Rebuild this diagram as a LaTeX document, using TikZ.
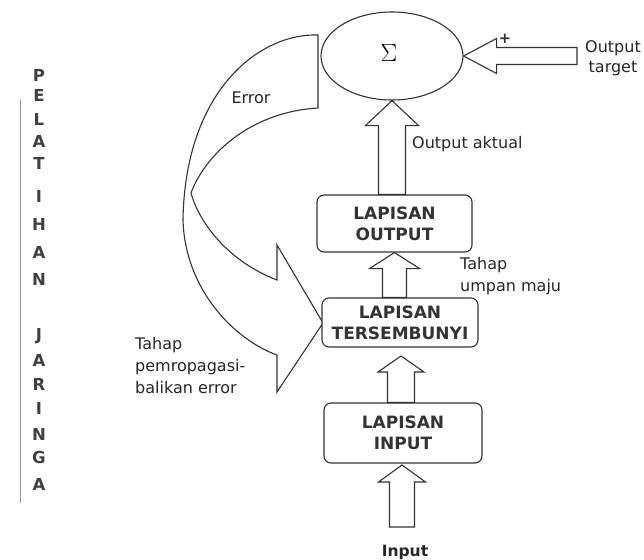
\documentclass[tikz,border=0pt]{standalone}
\usepackage{fontspec}
\setmainfont{DejaVu Sans}
\usetikzlibrary{calc,shapes.geometric}
\newcommand{\upblock}[5]{%
 \draw[blk] let \p1=(#1), \p2=(#2) in
  (\x2,\y2) -- (\x2+#5,\y2-#3) -- (\x2+#4,\y2-#3) -- (\x2+#4,\y1) -- (\x2-#4,\y1) -- (\x2-#4,\y2-#3) -- (\x2-#5,\y2-#3) -- cycle;}
\newcommand{\leftblock}[5]{%
 \draw[blk] let \p1=(#1), \p2=(#2) in
  (\x2,\y2) -- (\x2+#3,\y2+#5) -- (\x2+#3,\y2+#4) -- (\x1,\y2+#4) -- (\x1,\y2-#4) -- (\x2+#3,\y2-#4) -- (\x2+#3,\y2-#5) -- cycle;}
\begin{document}
\begin{tikzpicture}[x=1pt,y=-1pt,
  ln/.style={draw=black!80, line width=1.1pt},
  blk/.style={ln, fill=white, line join=miter},
  layer/.style={ln, fill=white, rounded corners=7pt, align=center, font=\fontsize{17}{21}\selectfont\bfseries, text=black!80, inner sep=0pt},
  lbl/.style={font=\fontsize{16}{22}\selectfont, text=black!85, inner sep=0pt},
  vlet/.style={font=\fontsize{16.5}{16.5}\selectfont\bfseries, text=black!75, inner sep=0pt, anchor=base}
]
\useasboundingbox (0,0) rectangle (644,559);

% faint margin line and vertical title
\draw[black!40, line width=0.6pt] (20,100) -- (20,503);
\foreach \l/\y in {P/76,E/96,L/119,A/141,T/163,I/196,H/224,A/252,N/279,J/334,A/360,R/384,I/408,N/434,G/457,A/484}
  \node[vlet] at (39,\y+6) {\l};

% error feedback arrow
\coordinate (etip) at (323,323);
\draw[blk] (318,35) .. controls (260,33) and (185,90) .. (183,220)
  .. controls (185,290) and (235,340) .. (277,355) -- (277,392) -- (etip)
  -- (277,245) -- (277,280) .. controls (230,262) and (200,225) .. (191,193)
  .. controls (205,155) and (250,112) .. (318,108) -- cycle;
\node[lbl, anchor=base] (err) at (251,103) {Error};

% summation
\node[ln, ellipse, minimum width=142pt, minimum height=88pt, inner sep=0pt] (sum) at (392,56) {};
\node[inner sep=0pt] (sig) at (389,53) {\fontsize{24}{24}\selectfont$\Sigma$};

% layers
\node[layer, minimum width=155pt, minimum height=57pt] (outbox) at (394.5,223.5) {LAPISAN\\OUTPUT};
\node[layer, minimum width=156pt, minimum height=49pt] (hidbox) at (400,322.5) {LAPISAN\\TERSEMBUNYI};
\node[layer, minimum width=158pt, minimum height=60pt] (inbox) at (403,433) {LAPISAN\\INPUT};

% target arrow
\coordinate (ttail) at (577,56);
\leftblock{ttail}{sum.east}{33pt}{8.5pt}{17.5pt}
\node[font=\fontsize{15}{15}\selectfont\bfseries, text=black!80, inner sep=0pt] (plus) at (505,39) {+};
\node[lbl, anchor=base] (ot1) at (613,53) {Output};
\node[lbl, anchor=base] (ot2) at (613,73) {target};

% forward arrows
\upblock{outbox.north}{sum.south}{25pt}{13.5pt}{26.5pt}
\upblock{hidbox.north}{outbox.south}{16pt}{12pt}{25pt}
\coordinate (t3) at (401,356);
\upblock{inbox.north}{t3}{16pt}{13.5pt}{23pt}
\coordinate (t4) at (402,465);
\coordinate (inp) at (402,527);
\upblock{inp}{t4}{17pt}{12.5pt}{23.5pt}

% labels
\node[lbl, anchor=base west] (oa) at (412,148) {Output aktual};
\node[lbl, anchor=base west] (tu1) at (460,269) {Tahap};
\node[lbl, anchor=base west] (tu2) at (460,291) {umpan maju};
\node[lbl, anchor=base west] (tb1) at (135,349) {Tahap};
\node[lbl, anchor=base west] (tb2) at (135,371) {pemropagasi-};
\node[lbl, anchor=base west] (tb3) at (135,393) {balikan error};
\node[lbl, anchor=base, font=\fontsize{15.5}{18}\selectfont\bfseries] (inlbl) at (405,556) {Input};
\end{tikzpicture}
\end{document}
